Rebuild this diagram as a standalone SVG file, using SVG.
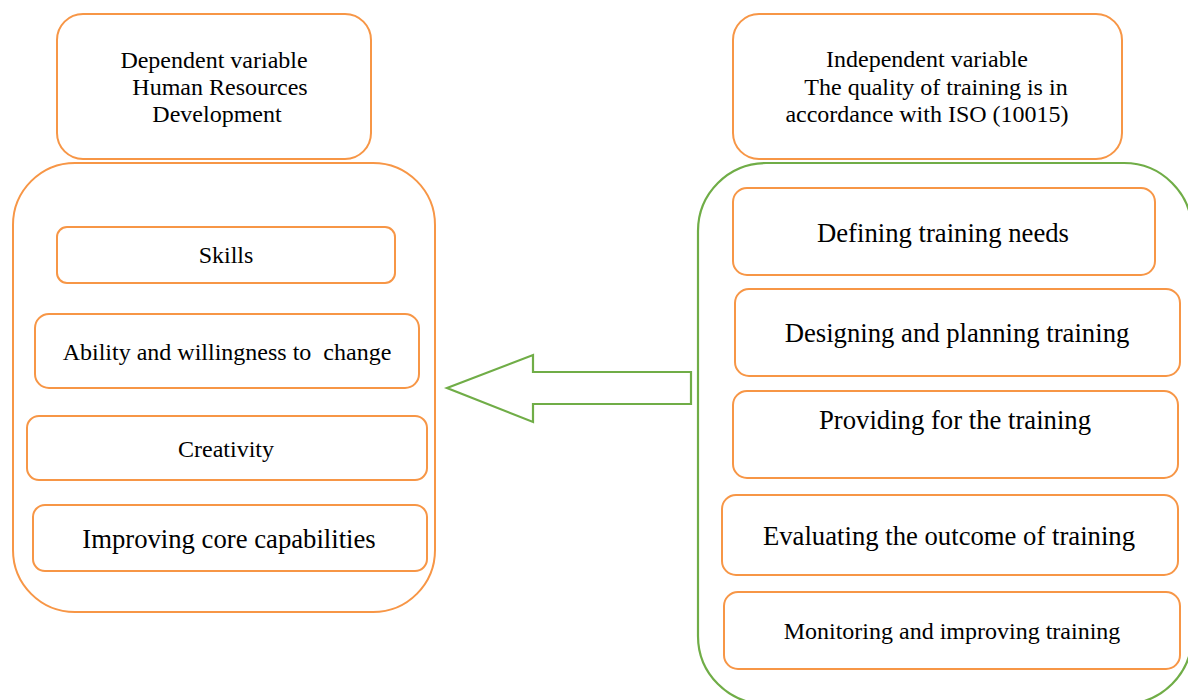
<svg xmlns="http://www.w3.org/2000/svg" width="1188" height="700" viewBox="0 0 1188 700">
  <style>
    .o { fill: #ffffff; stroke: #F79646; stroke-width: 2; }
    .g { fill: none; stroke: #70AD47; stroke-width: 2.2; }
    text { font-family: "Liberation Serif", "Times New Roman", serif; fill: #000000; text-anchor: middle; }
    .s20 { font-size: 24px; }
    .s22 { font-size: 26.7px; }
  </style>
  <rect width="1188" height="700" fill="#ffffff"/>

  <!-- Left column: dependent variable -->
  <g id="dependent-header">
    <rect class="o" x="57" y="14" width="314" height="145" rx="26"/>
    <text class="s20" x="214" y="68">Dependent variable</text>
    <text class="s20" x="220" y="95">Human Resources</text>
    <text class="s20" x="217" y="122">Development</text>
  </g>
  <g id="dependent-container">
    <rect class="o" x="13" y="163" width="422" height="449" rx="62"/>
  </g>
  <g id="skills">
    <rect class="o" x="57" y="227" width="338" height="56" rx="10"/>
    <text class="s20" x="226" y="263">Skills</text>
  </g>
  <g id="ability">
    <rect class="o" x="35" y="314" width="384" height="74" rx="14"/>
    <text class="s20" x="227" y="360">Ability and willingness to&#160; change</text>
  </g>
  <g id="creativity">
    <rect class="o" x="27" y="416" width="400" height="64" rx="12"/>
    <text class="s20" x="226" y="457">Creativity</text>
  </g>
  <g id="core-capabilities">
    <rect class="o" x="33" y="505" width="394" height="66" rx="12"/>
    <text class="s22" x="229" y="548">Improving core capabilities</text>
  </g>

  <!-- Right column: independent variable -->
  <g id="independent-header">
    <rect class="o" x="733" y="14" width="389" height="145" rx="26"/>
    <text class="s20" x="927" y="67">Independent variable</text>
    <text class="s20" x="936" y="95">The quality of training is in</text>
    <text class="s20" x="927" y="122">accordance with ISO (10015)</text>
  </g>
  <g id="independent-container">
    <rect class="g" x="698" y="163" width="494" height="541" rx="68"/>
  </g>
  <g id="defining">
    <rect class="o" x="733" y="188" width="422" height="87" rx="14"/>
    <text class="s22" x="943" y="242">Defining training needs</text>
  </g>
  <g id="designing">
    <rect class="o" x="735" y="289" width="445" height="87" rx="14"/>
    <text class="s22" x="957" y="342">Designing and planning training</text>
  </g>
  <g id="providing">
    <rect class="o" x="733" y="391" width="445" height="87" rx="14"/>
    <text class="s22" x="955" y="429">Providing for the training</text>
  </g>
  <g id="evaluating">
    <rect class="o" x="722" y="495" width="456" height="80" rx="14"/>
    <text class="s22" x="949" y="545">Evaluating the outcome of training</text>
  </g>
  <g id="monitoring">
    <rect class="o" x="724" y="592" width="456" height="77" rx="14"/>
    <text class="s20" x="952" y="639">Monitoring and improving training</text>
  </g>

  <!-- Connector: block arrow pointing from right column to left column -->
  <g id="connectors">
    <polygon class="g" points="691,372 533,372 533,355 447,388 533,422 533,404 691,404"/>
  </g>
</svg>
